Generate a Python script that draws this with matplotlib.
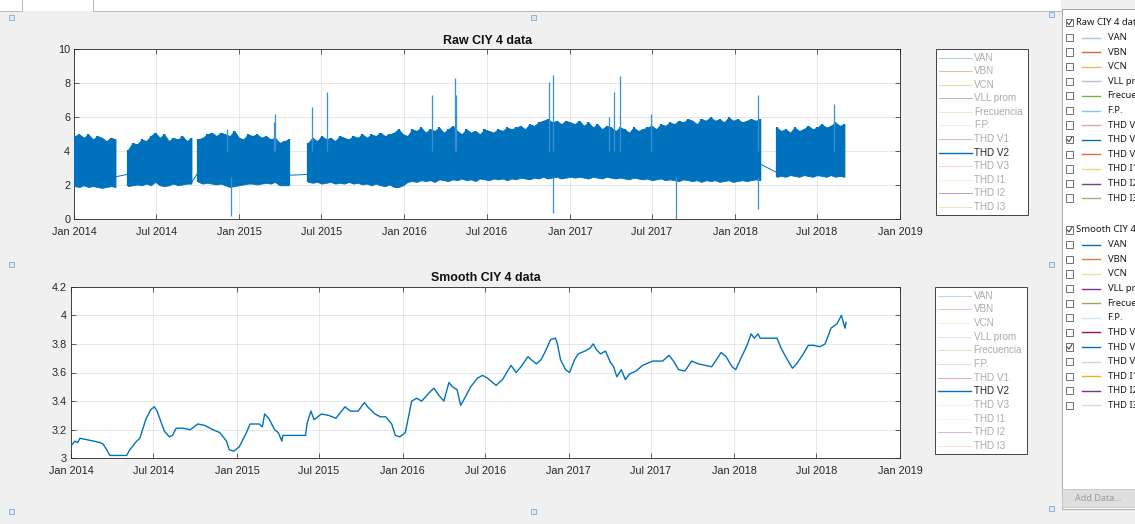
import numpy as np
import pandas as pd
import matplotlib
matplotlib.use("Agg")
import matplotlib.pyplot as plt
from matplotlib.patches import Rectangle

W, H = 1135, 524
BLUE = "#0072BD"
BG = "#f0f0f0"
INK = "#262626"

# ---- raw THD V2 record: 10-day envelope (low / high) per recorded segment ----
seg1_start = "2014-01-02"
seg1_high = [4.9, 5.0, 4.8, 5.0, 4.7, 4.9, 4.8, 4.6, 4.8, 4.7]
seg1_low = [1.95, 1.9, 2.0, 1.9, 1.95, 1.9, 1.85, 1.9, 1.95, 1.9]

seg2_start = "2014-04-30"
seg2_high = [4.1, 4.5, 4.4, 4.7, 4.6, 4.9, 5.1, 4.8, 5.0, 4.6, 4.8, 4.7, 4.9, 4.6, 4.8]
seg2_low = [1.95, 2.0, 2.05, 2.0, 2.1, 2.0, 2.2, 2.0, 1.95, 2.0, 2.1, 2.0, 2.05, 2.1, 2.1]

seg3_start = "2014-10-02"
seg3_high = [4.7, 4.8, 5.0, 5.1, 4.9, 5.1, 5.0, 4.9, 5.2, 4.8, 4.7,
             5.0, 4.9, 5.0, 4.8, 4.9, 4.7, 4.8, 4.5, 4.6, 4.7]
seg3_low = [2.2, 2.1, 2.15, 2.1, 2.05, 2.1, 2.0, 1.9, 1.95, 2.0, 2.05,
            2.1, 2.1, 2.05, 2.1, 2.15, 2.1, 2.2, 2.0, 2.0, 2.0]

seg4_start = "2015-06-02"
seg4_high = [4.5, 4.8, 4.6, 4.9, 4.7, 4.8, 4.6, 4.9, 4.8, 4.7,
             4.9, 4.8, 5.0, 4.8, 5.0, 4.9, 5.1, 4.9, 5.0, 5.1,
             5.3, 5.0, 4.9, 5.3, 5.2, 5.4, 5.1, 5.3, 5.2, 5.4,
             5.1, 5.3, 5.5, 5.2, 5.0, 5.3, 5.1, 5.2, 5.0, 5.3,
             5.2, 5.1, 5.3, 5.2, 5.4, 5.3, 5.4, 5.5, 5.3, 5.6,
             5.5, 5.7, 5.8, 5.9, 5.7, 5.8, 5.6, 5.8, 5.7, 5.6,
             5.8, 5.5, 5.7, 5.4, 5.6, 5.3, 5.5, 5.4, 5.2, 5.4,
             5.3, 5.1, 5.4, 5.2, 5.3, 5.4, 5.5, 5.3, 5.6, 5.5,
             5.7, 5.6, 5.8, 5.7, 5.9, 5.8, 5.6, 5.9, 5.8, 6.0,
             5.8, 5.9, 5.7, 6.0, 5.8, 5.9, 5.7, 5.8, 5.9, 5.8, 5.9]
seg4_low = [2.2, 2.15, 2.2, 2.1, 2.15, 2.2, 2.1, 2.15, 2.1, 2.2,
            2.1, 2.15, 2.05, 2.1, 2.0, 2.1, 2.0, 1.95, 2.05, 1.9,
            1.9, 2.0, 2.2, 2.25, 2.2, 2.3, 2.25, 2.3, 2.2, 2.35,
            2.3, 2.25, 2.35, 2.3, 2.4, 2.3, 2.35, 2.25, 2.4, 2.35,
            2.3, 2.4, 2.35, 2.4, 2.3, 2.4, 2.35, 2.45, 2.4, 2.35,
            2.45, 2.4, 2.5, 2.4, 2.45, 2.5, 2.4, 2.45, 2.5, 2.45,
            2.5, 2.45, 2.4, 2.5, 2.45, 2.4, 2.5, 2.45, 2.4, 2.45,
            2.4, 2.35, 2.45, 2.4, 2.35, 2.4, 2.3, 2.35, 2.4, 2.3,
            2.35, 2.3, 2.25, 2.35, 2.3, 2.25, 2.3, 2.2, 2.3, 2.25,
            2.3, 2.2, 2.25, 2.3, 2.2, 2.25, 2.3, 2.25, 2.3, 2.35, 2.3]

seg5_start = "2018-04-03"
seg5_high = [5.4, 5.2, 5.3, 5.1, 5.4, 5.2, 5.3, 5.5, 5.3, 5.4, 5.6, 5.4, 5.5, 5.7, 5.5, 5.6]
seg5_low = [2.5, 2.55, 2.5, 2.6, 2.55, 2.5, 2.6, 2.55, 2.5, 2.6, 2.55, 2.5, 2.6, 2.5, 2.55, 2.5]

# straight joins MATLAB draws across the recording gaps
gap_from = ["2014-04-02", "2014-09-17", "2015-04-12", "2018-02-26"]
gap_to = ["2014-04-30", "2014-10-02", "2015-06-02", "2018-04-03"]
gap_from_val = [2.5, 2.15, 2.58, 3.25]
gap_to_val = [2.65, 2.75, 2.64, 2.76]

spike_dates = ["2014-12-05", "2015-03-18", "2015-03-21", "2015-06-10", "2015-07-13",
               "2016-03-03", "2016-04-21", "2016-04-24", "2016-11-16", "2016-11-25",
               "2017-03-28", "2017-04-09", "2017-04-21", "2017-06-29", "2018-02-22",
               "2018-08-08"]
spike_tops = [5.3, 5.7, 6.2, 6.6, 7.5, 7.3, 8.3, 7.3, 8.1, 8.5,
              6.0, 7.5, 8.4, 6.2, 7.3, 6.8]
dip_dates = ["2014-12-13", "2016-11-25", "2017-08-24", "2018-02-20"]
dip_bottoms = [0.2, 0.4, 0.0, 0.6]

# ---- smoothed THD V2 ----
smooth_dates = [
    "2014-01-01", "2014-01-09", "2014-01-15", "2014-01-20", "2014-02-05", "2014-02-20",
    "2014-03-05", "2014-03-12", "2014-03-20", "2014-03-27", "2014-04-01", "2014-05-03",
    "2014-05-10", "2014-05-25", "2014-06-01", "2014-06-14", "2014-06-25", "2014-07-03",
    "2014-07-09", "2014-07-25", "2014-08-05", "2014-08-12", "2014-08-20", "2014-09-05",
    "2014-09-20", "2014-10-07", "2014-10-22", "2014-11-09", "2014-11-24", "2014-12-09",
    "2014-12-15", "2014-12-25", "2015-01-06", "2015-01-22", "2015-01-30", "2015-02-19",
    "2015-02-26", "2015-03-03", "2015-03-12", "2015-03-25", "2015-04-02", "2015-04-10",
    "2015-04-12", "2015-06-01", "2015-06-05", "2015-06-13", "2015-06-20", "2015-07-06",
    "2015-07-22", "2015-08-07", "2015-08-27", "2015-09-08", "2015-09-25", "2015-10-09",
    "2015-10-16", "2015-11-01", "2015-11-13", "2015-11-25", "2015-12-08", "2015-12-16",
    "2015-12-26", "2016-01-07", "2016-01-21", "2016-02-01", "2016-02-12", "2016-03-03",
    "2016-03-10", "2016-03-21", "2016-04-01", "2016-04-12", "2016-04-20", "2016-04-30",
    "2016-05-08", "2016-05-15", "2016-05-30", "2016-06-14", "2016-06-25", "2016-07-06",
    "2016-07-25", "2016-08-08", "2016-08-27", "2016-09-07", "2016-09-18", "2016-10-03",
    "2016-10-14", "2016-10-22", "2016-11-01", "2016-11-11", "2016-11-22", "2016-12-03",
    "2016-12-07", "2016-12-14", "2016-12-25", "2017-01-03", "2017-01-14", "2017-01-22",
    "2017-02-06", "2017-02-17", "2017-02-24", "2017-03-03", "2017-03-12", "2017-03-23",
    "2017-04-03", "2017-04-10", "2017-04-17", "2017-04-27", "2017-05-06", "2017-05-15",
    "2017-05-29", "2017-06-13", "2017-07-05", "2017-07-27", "2017-08-10", "2017-08-20",
    "2017-08-31", "2017-09-14", "2017-09-29", "2017-10-14", "2017-10-28", "2017-11-12",
    "2017-12-03", "2017-12-14", "2017-12-27", "2018-01-04", "2018-01-17", "2018-01-29",
    "2018-02-07", "2018-02-14", "2018-02-22", "2018-02-27", "2018-04-05", "2018-04-14",
    "2018-04-26", "2018-05-09", "2018-05-18", "2018-05-31", "2018-06-13", "2018-06-25",
    "2018-07-08", "2018-07-20", "2018-08-02", "2018-08-15", "2018-08-25", "2018-08-30",
    "2018-09-02", "2018-09-04"]
smooth_vals = [
    3.09, 3.12, 3.11, 3.14, 3.13, 3.12, 3.11, 3.10, 3.06, 3.02, 3.02, 3.02,
    3.06, 3.12, 3.14, 3.27, 3.34, 3.36, 3.33, 3.19, 3.15, 3.16, 3.21, 3.21,
    3.20, 3.24, 3.23, 3.20, 3.18, 3.12, 3.06, 3.05, 3.08, 3.18, 3.24, 3.24,
    3.22, 3.31, 3.28, 3.20, 3.18, 3.12, 3.16, 3.16, 3.25, 3.33, 3.27, 3.31,
    3.30, 3.28, 3.36, 3.33, 3.33, 3.39, 3.36, 3.31, 3.29, 3.29, 3.24, 3.16,
    3.15, 3.18, 3.40, 3.42, 3.40, 3.47, 3.49, 3.44, 3.40, 3.53, 3.50, 3.48,
    3.37, 3.41, 3.50, 3.56, 3.58, 3.56, 3.51, 3.55, 3.65, 3.60, 3.64, 3.71,
    3.68, 3.66, 3.69, 3.75, 3.83, 3.84, 3.80, 3.69, 3.62, 3.60, 3.69, 3.73,
    3.75, 3.77, 3.80, 3.76, 3.73, 3.75, 3.67, 3.64, 3.57, 3.62, 3.55, 3.59,
    3.61, 3.65, 3.68, 3.68, 3.72, 3.68, 3.62, 3.61, 3.68, 3.66, 3.65, 3.64,
    3.74, 3.71, 3.64, 3.62, 3.71, 3.79, 3.87, 3.84, 3.87, 3.84, 3.84, 3.77,
    3.70, 3.63, 3.66, 3.72, 3.79, 3.79, 3.78, 3.80, 3.91, 3.94, 4.00, 3.94,
    3.91, 3.95]

tick_dates = pd.date_range("2014-01-01", "2019-01-01", freq="6MS")
tick_labels = [d.strftime("%b %Y") for d in tick_dates]

series_names = ["VAN", "VBN", "VCN", "VLL prom", "Frecuencia", "F.P.",
                "THD V1", "THD V2", "THD V3", "THD I1", "THD I2", "THD I3"]
legend_colors_raw = ["#a9cbe3", "#f0b8a0", "#f3d9a0", "#b8aebf", "#e4ecd2", "#e2f1f8",
                     "#d7b4c3", BLUE, "#f5d5cc", "#faf0d4", "#b9a6c7", "#eee3b8"]
legend_colors_smooth = ["#b5d7ee", "#f2c4b0", "#faf0d8", "#e6e0ea", "#e8dcc0", "#cfe0f0",
                        "#e8a8b0", BLUE, "#f5f0f0", "#faf4e0", "#d8b8d8", "#f0e4c8"]
panel_colors_raw = ["#a8c8e4", "#d9653a", "#edb85a", "#c4bccc", "#7faf3f", "#86c8e6",
                    "#e0a8a8", BLUE, "#e06a3a", "#f5d28a", "#6e4a78", "#a8b070"]
panel_colors_smooth = [BLUE, "#e07850", "#f5dca0", "#7e2f8e", "#9aa86a", "#c8e8f2",
                       "#a2142f", BLUE, "#ddd0d0", "#edb120", "#7e2f8e", "#d8dcc4"]

plt.rcParams["font.family"] = ["Liberation Sans", "DejaVu Sans"]

fig = plt.figure(figsize=(W / 100, H / 100), dpi=100, facecolor=BG)

# overlay in pixel coordinates for the GUI chrome (y downward)
ov = fig.add_axes([0, 0, 1, 1], zorder=-5)
ov.set_xlim(0, W)
ov.set_ylim(H, 0)
ov.axis("off")


def px_axes(left, top, right, bottom):
    return fig.add_axes([left / W, 1 - bottom / H, (right - left) / W, (bottom - top) / H])


def style_axes(ax, yticks, ylabels):
    ax.set_facecolor("white")
    ax.set_xlim(pd.Timestamp("2014-01-01"), pd.Timestamp("2019-01-01"))
    ax.set_xticks(tick_dates)
    ax.set_xticklabels(tick_labels)
    ax.set_yticks(yticks)
    ax.set_yticklabels(ylabels)
    ax.set_ylim(yticks[0], yticks[-1])
    ax.grid(True, color="#e3e3e3", lw=0.6)
    ax.set_axisbelow(True)
    for s in ax.spines.values():
        s.set_color(INK)
        s.set_linewidth(0.6)
    ax.tick_params(direction="in", length=3.5, width=0.5, color=INK, labelcolor=INK,
                   labelsize=7.8, top=True, right=True)
    ax.tick_params(axis="x", pad=5.5)
    ax.tick_params(axis="y", pad=3)


# ---- top: raw data ----
ax1 = px_axes(74.3, 49.3, 900, 219.3)
segments = [(seg1_start, seg1_low, seg1_high), (seg2_start, seg2_low, seg2_high),
            (seg3_start, seg3_low, seg3_high), (seg4_start, seg4_low, seg4_high),
            (seg5_start, seg5_low, seg5_high)]
for start, lo, hi in segments:
    d = pd.date_range(start, periods=len(hi), freq="10D")
    ax1.fill_between(d, lo, hi, color=BLUE, lw=0.6, zorder=3)
    ax1.vlines(d, lo, hi, color=BLUE, lw=1.6, zorder=3)
for a, b, va, vb in zip(gap_from, gap_to, gap_from_val, gap_to_val):
    ax1.plot(pd.to_datetime([a, b]), [va, vb], color=BLUE, lw=0.7, zorder=3)
ax1.vlines(pd.to_datetime(spike_dates), 4.0, spike_tops, color="#3a8fd0", lw=0.9, zorder=3)
ax1.vlines(pd.to_datetime(dip_dates), 2.5, dip_bottoms, color="#3a8fd0", lw=0.9, zorder=3)
style_axes(ax1, [0, 2, 4, 6, 8, 10], ["0", "2", "4", "6", "8", "10"])
ax1.set_title("Raw CIY 4 data", fontsize=8.9, fontweight="bold", color="#111111", pad=4)

# ---- bottom: smoothed data ----
ax2 = px_axes(71.3, 286.7, 900, 458.3)
ax2.plot(pd.to_datetime(smooth_dates), smooth_vals, color=BLUE, lw=1.0, zorder=3)
style_axes(ax2, [3.0, 3.2, 3.4, 3.6, 3.8, 4.0, 4.2],
           ["3", "3.2", "3.4", "3.6", "3.8", "4", "4.2"])
ax2.set_title("Smooth CIY 4 data", fontsize=8.9, fontweight="bold", color="#111111", pad=4)


# ---- legend boxes ----
def legend_box(left, top, right, bottom, colors):
    ov.add_patch(Rectangle((left, top), right - left, bottom - top, facecolor="white",
                           edgecolor=INK, lw=0.6))
    step = (bottom - top - 16.6) / 11
    for i, (name, c) in enumerate(zip(series_names, colors)):
        y = top + 8.4 + i * step
        active = name == "THD V2"
        ov.plot([left + 2.5, left + 35.7], [y, y], color=c, lw=1.0 if active else 0.7)
        ov.text(left + 38.3, y, name, fontsize=7.1, va="center", ha="left",
                color=INK if active else "#ababab")


legend_box(936, 49.3, 1028.3, 215, legend_colors_raw)
legend_box(935.3, 287.3, 1027.3, 454, legend_colors_smooth)

# ---- right-hand property panel (its texts run off the window edge, as in the app) ----
ov.add_patch(Rectangle((1061.7, 9.3), 100, 499.7, facecolor="white", edgecolor="#a8a8a8", lw=0.7))


def checkbox(x, y, checked):
    ov.add_patch(Rectangle((x, y - 3.7), 7.3, 7.3, facecolor="white", edgecolor="#5a5a5a", lw=0.6))
    if checked:
        ov.plot([x + 1.4, x + 3.0, x + 6.0], [y, y + 2.0, y - 2.6], color="#333333", lw=0.7)


panel_font = ["Noto Sans", "DejaVu Sans"]
for header, y0, colors in [("Raw CIY 4 data", 22.7, panel_colors_raw),
                           ("Smooth CIY 4 data", 230, panel_colors_smooth)]:
    checkbox(1066, y0, True)
    ov.text(1076, y0, header, fontsize=6.8, va="center", ha="left", color="#1a1a1a",
            family=panel_font)
    for i, (name, c) in enumerate(zip(series_names, colors)):
        y = y0 + 14.8 + i * 14.6
        checkbox(1066, y, name == "THD V2")
        ov.plot([1081.7, 1100], [y, y], color=c, lw=1.0)
        ov.text(1107.5, y, name, fontsize=6.8, va="center", ha="left", color="#1a1a1a",
                family=panel_font)

ov.add_patch(Rectangle((1061.7, 488.7), 100, 18.6, facecolor="#dedede", edgecolor="#c4c4c4", lw=0.6))
ov.text(1075, 498.3, "Add Data...", fontsize=6.5, va="center", ha="left", color="#9a9a9a",
        family=panel_font)

# strip of the window above the plots
ov.add_patch(Rectangle((0, 0), 1061, 10.5, facecolor="white", edgecolor="none"))
ov.plot([0, 22], [10.5, 10.5], color="#b8b8b8", lw=0.7)
ov.plot([93, 1061], [10.5, 10.5], color="#b8b8b8", lw=0.7)
ov.plot([22, 22], [0, 10.5], color="#b8b8b8", lw=0.7)
ov.plot([93, 93], [0, 10.5], color="#b8b8b8", lw=0.7)

# selection handles
for hx, hy in [(11, 17), (533, 17), (1051, 14), (11, 264), (1051, 264),
               (11, 511), (533, 511), (1051, 508)]:
    ov.add_patch(Rectangle((hx - 2.5, hy - 2.5), 5, 5, facecolor="#dfe9f5",
                           edgecolor="#86a9d6", lw=0.6))

fig.savefig("out.png", dpi=100, facecolor=BG)
